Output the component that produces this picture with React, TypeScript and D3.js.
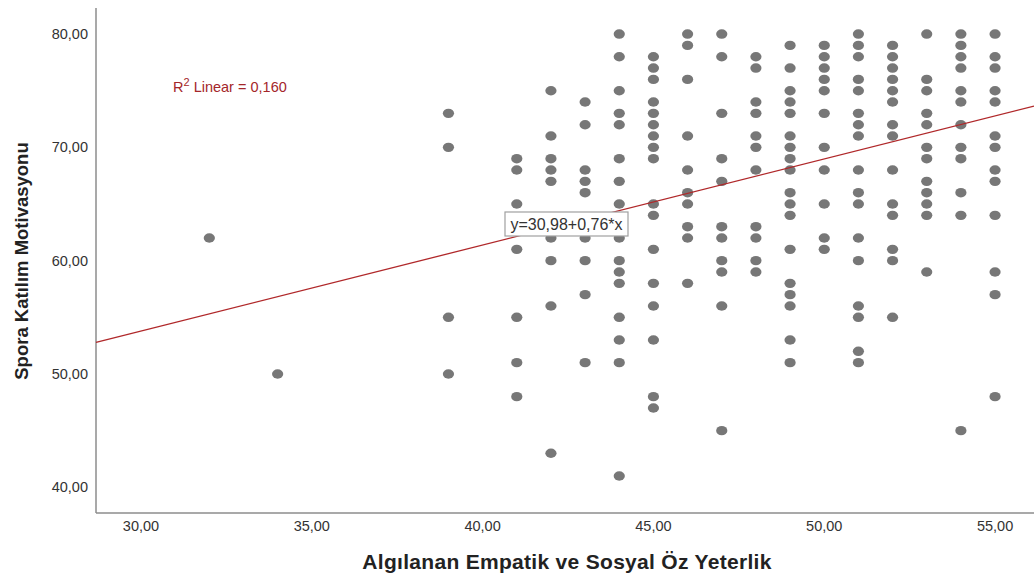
import React from "react";
import * as d3 from "d3";

// x levels (Algılanan Empatik ve Sosyal Öz Yeterlik) and the y values seen at each level
const xLevels = [32, 34, 39, 41, 42, 43, 44, 45, 46, 47, 48, 49, 50, 51, 52, 53, 54, 55];
const yAtLevel = [
  [62],
  [50],
  [73, 70, 55, 50],
  [69, 68, 65, 61, 55, 51, 48],
  [75, 71, 69, 68, 67, 62, 60, 56, 43],
  [74, 72, 68, 67, 66, 62, 60, 57, 51],
  [80, 78, 75, 73, 72, 69, 67, 65, 62, 60, 59, 58, 55, 53, 51, 41],
  [78, 77, 76, 74, 73, 72, 71, 70, 69, 65, 64, 61, 58, 56, 53, 48, 47],
  [80, 79, 76, 71, 68, 66, 65, 63, 62, 58],
  [80, 78, 73, 69, 67, 63, 62, 60, 59, 56, 45],
  [78, 77, 74, 73, 71, 70, 68, 63, 62, 60, 59],
  [79, 77, 75, 74, 73, 71, 70, 69, 68, 66, 65, 64, 61, 58, 57, 56, 53, 51],
  [79, 78, 77, 76, 75, 73, 70, 68, 65, 62, 61],
  [80, 79, 78, 76, 75, 73, 72, 71, 68, 66, 65, 62, 60, 56, 55, 52, 51],
  [79, 78, 77, 76, 75, 74, 72, 71, 68, 65, 64, 61, 60, 55],
  [80, 76, 75, 73, 72, 70, 69, 67, 66, 65, 64, 59],
  [80, 79, 78, 77, 75, 74, 72, 70, 69, 66, 64, 45],
  [80, 78, 77, 75, 74, 71, 70, 68, 67, 64, 59, 57, 48],
];

const xTicks = [30, 35, 40, 45, 50, 55];
const yTicks = [40, 50, 60, 70, 80];

const intercept = 30.98;
const slope = 0.76;
const rSquared = "0,160";

const xTitle = "Algılanan Empatik ve Sosyal Öz Yeterlik";
const yTitle = "Spora Katılım Motivasyonu";

const W = 1034;
const H = 573;

const fmt = (v: number) => d3.format(".2f")(v).replace(".", ",");

export default function App() {
  const x = d3.scaleLinear().domain([28.683, 56.14]).range([96, 1034]);
  const y = d3.scaleLinear().domain([37.73, 82.3]).range([513, 8]);

  const points: { px: number; py: number }[] = [];
  xLevels.forEach((lv, i) => {
    yAtLevel[i].forEach((v) => points.push({ px: lv, py: v }));
  });

  const [x0, x1] = x.domain();
  const [yLo, yHi] = y.domain();
  const line = d3
    .line<number>()
    .x((d) => x(d))
    .y((d) => y(intercept + slope * d));

  const font = "'Liberation Sans', Arial, sans-serif";

  return (
    <svg
      width={W}
      height={H}
      style={{ position: "absolute", left: 0, top: 0, background: "#fff" }}
      fontFamily={font}
    >
      {/* axes */}
      <line x1={x(x0)} x2={x(x0)} y1={y(yHi)} y2={y(yLo)} stroke="#8c8c8c" strokeWidth={1.5} />
      <line x1={x(x0)} x2={x(x1)} y1={y(yLo)} y2={y(yLo)} stroke="#8c8c8c" strokeWidth={1.5} />

      {yTicks.map((t) => (
        <text key={t} x={88} y={y(t)} dy="0.35em" textAnchor="end" fontSize={14.5} fill="#333">
          {fmt(t)}
        </text>
      ))}
      {xTicks.map((t) => (
        <text key={t} x={x(t)} y={531} textAnchor="middle" fontSize={14.5} fill="#333">
          {fmt(t)}
        </text>
      ))}

      {/* points */}
      {points.map((p, i) => (
        <ellipse key={i} cx={x(p.px)} cy={y(p.py)} rx={5.6} ry={4.7} fill="#777777" />
      ))}

      {/* fit line */}
      <path d={line([x0, x1]) || ""} stroke="#b0282a" strokeWidth={1.3} fill="none" />

      <text x={173} y={92} fontSize={14.5} fill="#a4262a">
        R<tspan dy={-6} fontSize={11}>2</tspan>
        <tspan dy={6}> Linear = {rSquared}</tspan>
      </text>

      <rect x={505} y={212} width={123} height={24} fill="#fff" stroke="#a0a0a0" strokeWidth={1.2} />
      <text x={566.5} y={230} textAnchor="middle" fontSize={16} fill="#333">
        y=30,98+0,76*x
      </text>

      {/* titles */}
      <text x={567} y={569} textAnchor="middle" fontSize={21} fontWeight="bold" letterSpacing={0.3} fill="#222">
        {xTitle}
      </text>
      <text
        transform={`translate(28,261) rotate(-90)`}
        textAnchor="middle"
        fontSize={18.5}
        fontWeight="bold"
        fill="#222"
      >
        {yTitle}
      </text>
    </svg>
  );
}
